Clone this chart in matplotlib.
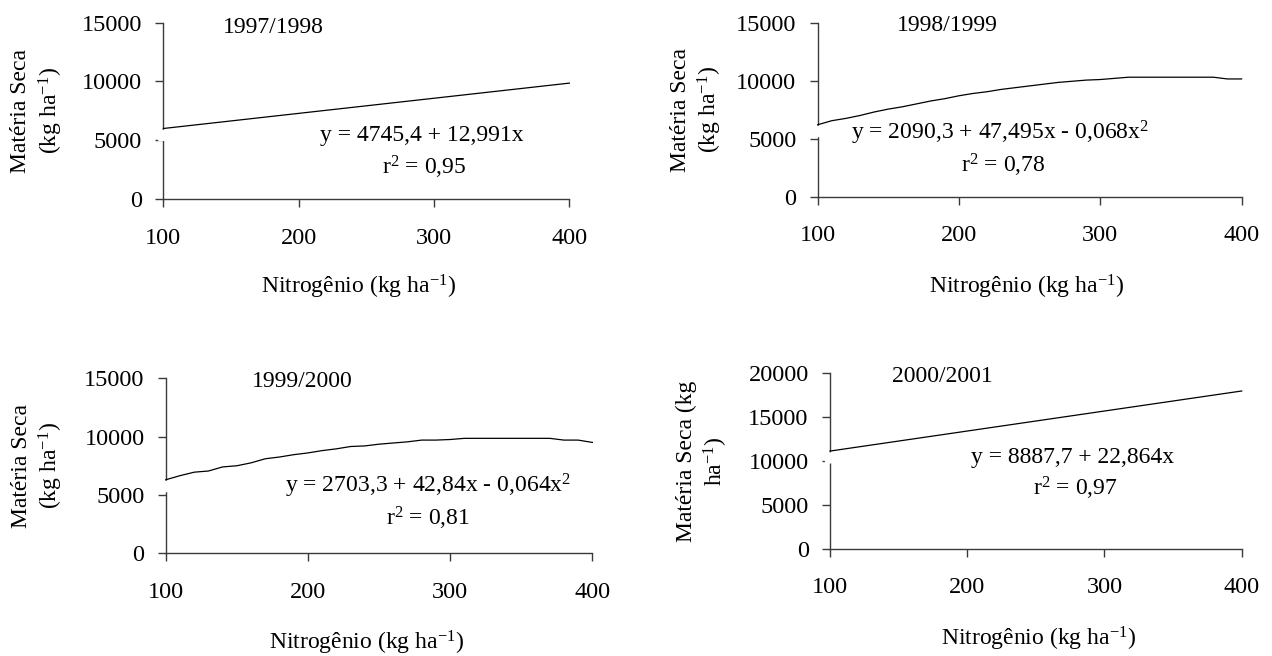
import matplotlib
matplotlib.use("Agg")
import matplotlib.pyplot as plt
import matplotlib.patheffects as pe

plt.rcParams['font.family'] = ['Liberation Serif', 'DejaVu Serif']
plt.rcParams['mathtext.fontset'] = 'custom'
plt.rcParams['mathtext.rm'] = 'Liberation Serif'
plt.rcParams['mathtext.it'] = 'Liberation Serif:italic'

# data
x_9798 = [100, 400]
y_9798 = [6000, 9860]

x_9899 = [100, 110, 120, 130, 140, 150, 160, 170, 180, 190, 200, 210, 220, 230,
          240, 250, 260, 270, 280, 290, 300, 310, 320, 340, 360, 380, 390, 400]
y_9899 = [6200, 6550, 6750, 7000, 7300, 7550, 7750, 8000, 8250, 8450, 8700, 8900,
          9050, 9250, 9400, 9550, 9700, 9850, 9950, 10050, 10100, 10200, 10300,
          10300, 10300, 10300, 10150, 10150]

x_9900 = [100, 110, 120, 130, 140, 150, 160, 170, 180, 190, 200, 210, 220, 230,
          240, 250, 260, 270, 280, 290, 300, 310, 320, 340, 360, 370, 380, 390, 400]
y_9900 = [6300, 6650, 6950, 7050, 7400, 7500, 7750, 8100, 8250, 8450, 8600, 8800,
          8950, 9150, 9200, 9350, 9450, 9550, 9700, 9700, 9750, 9850, 9850, 9850,
          9850, 9850, 9700, 9700, 9500]

x_0001 = [100, 400]
y_0001 = [11150, 17990]

x_ticks = [100, 200, 300, 400]

FS = 17
TICK_FS = 17.5
axis_col = '#3a3a3a'

fig = plt.figure(figsize=(12.72, 6.56), dpi=100)
fig.patch.set_facecolor('white')

panels = [
    # rect, x, y, ymax, season, eq, r2, season pos, eq pos, r2 pos, ylabel, ylabel x, xlabel pos
    ([0.1284, 0.6966, 0.3192, 0.2688], x_9798, y_9798, 15000, '1997/1998',
     'y = 4745,4 + 12,991x', 'r$^2$ = 0,95', (181, 14634), (291, 5445), (293, 2723),
     'Matéria Seca\n(kg ha$^{-1}$)', -0.31, (0.48, -0.5)),
    ([0.6428, 0.7002, 0.3333, 0.2652], x_9899, y_9899, 15000, '1998/1999',
     'y = 2090,3 + 47,495x - 0,068x$^2$', 'r$^2$ = 0,78', (191.5, 14800), (229, 5491), (231, 2733),
     'Matéria Seca\n(kg ha$^{-1}$)', -0.285, (0.494, -0.517)),
    ([0.1303, 0.1566, 0.3354, 0.2668], x_9900, y_9900, 15000, '1999/2000',
     'y = 2703,3 + 42,84x - 0,064x$^2$', 'r$^2$ = 0,81', (196, 14683), (284.5, 5769), (284.5, 3026),
     'Matéria Seca\n(kg ha$^{-1}$)', -0.299, (0.47, -0.51)),
    ([0.6525, 0.1631, 0.3237, 0.2678], x_0001, y_0001, 20000, '2000/2001',
     'y = 8887,7 + 22,864x', 'r$^2$ = 0,97', (182, 19693), (277, 10473), (278.5, 6944),
     'Matéria Seca (kg\nha$^{-1}$)', -0.309, (0.507, -0.51)),
]

for rect, xs, ys, ymax, season, eq, r2, p_s, p_eq, p_r2, ylab, ylx, xl in panels:
    ax = fig.add_axes(rect)
    # white offset stroke reproduces the break in the y axis under the line
    ax.plot(xs, ys, color='black', linewidth=0.9, zorder=3, clip_on=False,
            path_effects=[pe.Stroke(offset=(0, -5), linewidth=8, foreground='white'),
                          pe.Normal()])
    ax.set_xlim(100, 400)
    ax.set_ylim(0, ymax)
    ax.set_xticks(x_ticks)
    ax.set_yticks(range(0, ymax + 1, 5000))
    for s in ['top', 'right']:
        ax.spines[s].set_visible(False)
    for s in ['left', 'bottom']:
        ax.spines[s].set_color(axis_col)
        ax.spines[s].set_linewidth(1.0)
    ax.tick_params(axis='x', direction='out', length=5.5, width=1.0, color=axis_col,
                   pad=15, labelsize=TICK_FS)
    ax.tick_params(axis='y', direction='out', length=5.8, width=1.0, color=axis_col,
                   pad=9.5, labelsize=TICK_FS)

    ax.text(p_s[0], p_s[1], season, fontsize=FS, ha='center', va='center')
    ax.text(p_eq[0], p_eq[1], eq, fontsize=FS, ha='center', va='center')
    ax.text(p_r2[0], p_r2[1], r2, fontsize=FS, ha='center', va='center')

    ax.text(ylx, 0.5, ylab, transform=ax.transAxes, fontsize=FS, rotation=90,
            ha='center', va='center', multialignment='center', linespacing=1.25)
    ax.text(xl[0], xl[1], 'Nitrogênio (kg ha$^{-1}$)', transform=ax.transAxes,
            fontsize=FS, ha='center', va='center')

fig.savefig('out.png', dpi=100)
